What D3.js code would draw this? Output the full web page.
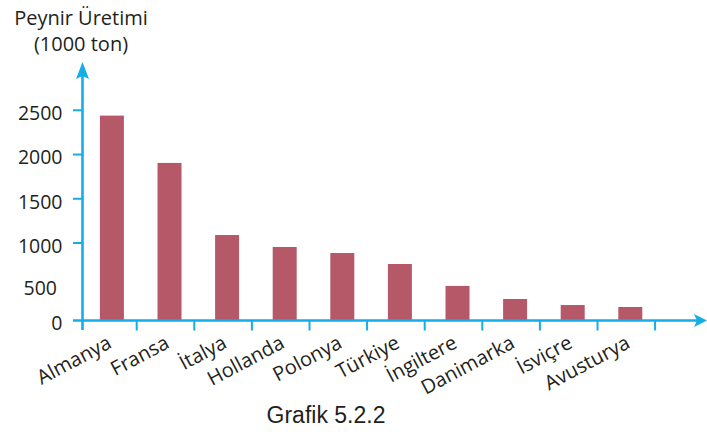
<!DOCTYPE html>
<html>
<head>
<meta charset="utf-8">
<script src="https://cdn.jsdelivr.net/npm/d3@7"></script>
<style>
  html, body { margin: 0; padding: 0; background: #fff; }
  svg { display: block; }
  text { font-family: "Open Sans", sans-serif; fill: #231f20; }
</style>
</head>
<body>
<svg id="chart" width="707" height="432"></svg>
<script>
// ---- data ----
const countries = ["Almanya", "Fransa", "İtalya", "Hollanda", "Polonya", "Türkiye", "İngiltere", "Danimarka", "İsviçre", "Avusturya"];
const production = [2440, 1905, 1090, 953, 882, 753, 494, 307, 221, 193];
const yTickValues = [0, 500, 1000, 1500, 2000, 2500];
const yTickMarks = [1000, 1500, 2000, 2500];
const yTitleLines = ["Peynir Üretimi", "(1000 ton)"];
const caption = "Grafik 5.2.2";

// ---- layout ----
const svg = d3.select("#chart");
const axisColor = "#13aee8";
const barColor = "#b55868";
const axisX = 82.5, axisY = 320.5;

const x = d3.scaleBand().domain(countries).range([79.1, 655.1]).padding(0);
// tick labels in the reference are not evenly spaced near the origin
const y = d3.scaleLinear().domain([0, 500, 1000, 2500]).range([axisY, 285.5, 243, 110.3]);

const barW = 24, barOff = 20.8;

// bars
svg.append("g").selectAll("rect").data(countries).join("rect")
  .attr("x", d => x(d) + barOff)
  .attr("width", barW)
  .attr("y", (d, i) => y(production[i]))
  .attr("height", (d, i) => axisY - y(production[i]))
  .attr("fill", barColor);

// x axis line + ticks
const g = svg.append("g");
g.append("line").attr("x1", 73).attr("x2", 697).attr("y1", axisY).attr("y2", axisY)
  .attr("stroke", axisColor).attr("stroke-width", 2.6);
g.append("path").attr("d", `M707,${axisY} L694,${axisY - 6.5} L697,${axisY} L694,${axisY + 6.5} Z`)
  .attr("fill", axisColor);
g.selectAll(".xt").data(countries).join("line").attr("class", "xt")
  .attr("x1", d => x(d) + x.bandwidth()).attr("x2", d => x(d) + x.bandwidth())
  .attr("y1", axisY).attr("y2", axisY + 10)
  .attr("stroke", axisColor).attr("stroke-width", 2);

// y axis line + ticks
g.append("line").attr("x1", axisX).attr("x2", axisX).attr("y1", 330).attr("y2", 72)
  .attr("stroke", axisColor).attr("stroke-width", 2.6);
g.append("path").attr("d", `M${axisX},62 L${axisX - 6.5},79 L${axisX},76 L${axisX + 6.5},79 Z`)
  .attr("fill", axisColor);
g.selectAll(".yt").data(yTickMarks).join("line").attr("class", "yt")
  .attr("x1", 73).attr("x2", axisX).attr("y1", d => y(d)).attr("y2", d => y(d))
  .attr("stroke", axisColor).attr("stroke-width", 2);

// y tick labels
svg.append("g").selectAll("text").data(yTickValues).join("text")
  .attr("x", d => d === 500 ? 57 : 62.5)
  .attr("y", d => y(d) + 3)
  .attr("dy", "0.35em")
  .attr("text-anchor", "end")
  .style("font-size", "19.5px")
  .text(d => d);

// x labels, rotated
svg.append("g").selectAll("text").data(countries).join("text")
  .attr("text-anchor", "end")
  .attr("transform", d => `translate(${x(d) + barOff + barW / 2 + 1},347) rotate(-28)`)
  .style("font-size", "20px")
  .text(d => d);

// y title
svg.append("g").selectAll("text").data(yTitleLines).join("text")
  .attr("x", 81)
  .attr("y", (d, i) => 25 + i * 26)
  .attr("text-anchor", "middle")
  .style("font-size", "20px")
  .text(d => d);

// caption
svg.append("text")
  .attr("x", 326).attr("y", 422.5)
  .attr("text-anchor", "middle")
  .style("font-family", "'Liberation Sans', Arial, sans-serif")
  .style("font-size", "23px")
  .text(caption);
</script>
</body>
</html>
